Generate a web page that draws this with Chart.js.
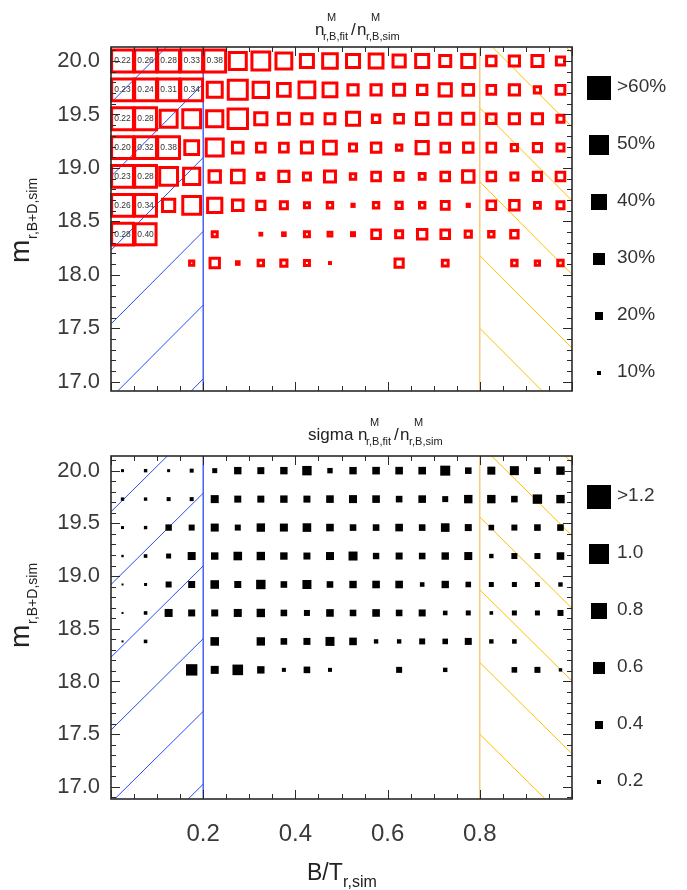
<!DOCTYPE html>
<html><head><meta charset="utf-8">
<script src="https://cdn.jsdelivr.net/npm/chart.js@4.4.1/dist/chart.umd.min.js"></script>
<style>
html,body{margin:0;padding:0;background:#fff;}
#wrap{position:relative;width:687px;height:890px;overflow:hidden;font-family:'Liberation Sans',Arial,sans-serif;color:#333;}
canvas{position:absolute;left:0;}
#c1{top:0;} #c2{top:420px;}
.t{position:absolute;white-space:nowrap;line-height:1;}
.rot{position:absolute;transform-origin:0 0;transform:rotate(-90deg);width:0;height:0;}
.sq{position:absolute;background:#000;}
</style></head><body><div id="wrap">
<canvas id="c1" width="687" height="420"></canvas>
<canvas id="c2" width="687" height="470"></canvas>
</div>
<script>
// ---------------- data ----------------
const binCenters = [0.025,0.075,0.125,0.175,0.225,0.275,0.325,0.375,0.425,0.475,0.525,0.575,0.625,0.675,0.725,0.775,0.825,0.875,0.925,0.975];
const magBins = [20.00,19.73,19.46,19.19,18.92,18.65,18.38,18.11];
const yTickValues = [17.0,17.5,18.0,18.5,19.0,19.5,20.0];
const yTickLabels = ['17.0','17.5','18.0','18.5','19.0','19.5','20.0'];
const xTickValues = [0.2,0.4,0.6,0.8];
const xTickLabels = ['0.2','0.4','0.6','0.8'];

// |1 - n_fit/n_sim| in percent, one array per magnitude row
const fracDevRow1 = [78,74,72,67,62,50,52,47,40,44,40,42,38,40,35,40,31,33,35,28];
const fracDevRow2 = [77,76,69,66,45,55,46,39,47,42,33,33,35,31,38,34,29,33,23,29];
const fracDevRow3 = [78,72,50,52,48,56,38,35,33,32,40,26,29,36,35,35,31,33,33,25];
const fracDevRow4 = [80,68,62,42,50,34,29,29,35,39,25,31,21,38,29,31,29,23,28,25];
const fracDevRow5 = [77,72,52,48,36,39,23,33,25,35,21,29,27,22,29,36,29,25,28,29];
const fracDevRow6 = [74,66,38,52,43,34,28,25,20,21,13,21,23,21,27,13,29,31,22,25];
const fracDevRow7 = [72,60,null,null,20,null,12,14,20,17,15,29,25,31,29,23,21,26,null,null];
const fracDevRow8 = [null,null,null,18,31,14,21,23,20,10,null,null,28,null,22,null,null,21,18,21];

// printed ratios for the cells beyond the >60% level (from the first column on)
const ratioRow1 = [0.22,0.26,0.28,0.33,0.38];
const ratioRow2 = [0.23,0.24,0.31,0.34];
const ratioRow3 = [0.22,0.28];
const ratioRow4 = [0.20,0.32,0.38];
const ratioRow5 = [0.23,0.28];
const ratioRow6 = [0.26,0.34];
const ratioRow7 = [0.28,0.40];
const ratioRow8 = [];

// sigma of n_fit/n_sim
const sigmaRow1 = [0.15,0.17,0.15,0.20,0.25,0.37,0.35,0.37,0.47,0.27,0.37,0.38,0.38,0.38,0.50,0.33,0.40,0.45,0.33,0.42];
const sigmaRow2 = [0.17,0.17,0.20,0.20,0.40,0.35,0.35,0.37,0.35,0.38,0.40,0.38,0.33,0.38,0.30,0.42,0.42,0.33,0.47,0.42];
const sigmaRow3 = [0.15,0.17,0.32,0.30,0.40,0.30,0.42,0.40,0.43,0.38,0.33,0.33,0.38,0.33,0.43,0.35,0.28,0.30,0.33,0.33];
const sigmaRow4 = [0.12,0.18,0.25,0.40,0.37,0.43,0.42,0.37,0.35,0.40,0.45,0.32,0.35,0.33,0.37,0.40,0.22,0.30,0.30,0.38];
const sigmaRow5 = [0.10,0.15,0.30,0.35,0.43,0.35,0.47,0.33,0.45,0.33,0.37,0.38,0.38,0.23,0.37,0.28,0.25,0.25,0.25,0.22];
const sigmaRow6 = [0.10,0.18,0.40,0.35,0.35,0.40,0.42,0.33,0.30,0.38,0.33,0.38,0.33,0.35,0.23,0.25,0.18,0.25,0.25,0.30];
const sigmaRow7 = [0.10,0.18,null,null,0.43,null,0.42,0.33,0.35,0.45,0.38,0.22,0.22,0.30,0.28,0.35,0.22,0.23,null,null];
const sigmaRow8 = [null,null,null,0.57,0.40,0.53,0.37,0.20,0.33,0.20,null,null,0.30,null,0.22,null,null,0.28,0.30,0.17];

// excluded regions (B/T limits) and their hatching lines (magnitude where each line starts)
const bulgeLimit = 0.2;
const diskLimit = 0.8;
const blueHatchStart = [19.61,18.92,18.23,17.54,16.85,16.16];
const yellowHatchStart = [20.94,20.25,19.56,18.87,18.18,17.50];
const hatchRise = 0.866;

// size legends
const legendTopLabels = ['>60%','50%','40%','30%','20%','10%'];
const legendTopValues = [60,50,40,30,20,10];
const legendBotLabels = ['>1.2','1.0','0.8','0.6','0.4','0.2'];
const legendBotValues = [1.2,1.0,0.8,0.6,0.4,0.2];

// ---------------- helpers ----------------
const FONT = "'Liberation Sans', Arial, sans-serif";
const TICK = '#3a3a3a';
const BLUE = '#2a4cf4';
const YEL = '#ffc000';
const YEL_V = '#f2c46a';

const devRows = [fracDevRow1,fracDevRow2,fracDevRow3,fracDevRow4,fracDevRow5,fracDevRow6,fracDevRow7,fracDevRow8];
const ratioRows = [ratioRow1,ratioRow2,ratioRow3,ratioRow4,ratioRow5,ratioRow6,ratioRow7,ratioRow8];
const sigmaRows = [sigmaRow1,sigmaRow2,sigmaRow3,sigmaRow4,sigmaRow5,sigmaRow6,sigmaRow7,sigmaRow8];

function cells(rows){
  const out=[];
  rows.forEach((row,r)=>row.forEach((v,c)=>{ if(v!==null) out.push({x:binCenters[c], y:magBins[r], v:v}); }));
  return out;
}

// hatched exclusion zones, drawn below the squares through the chart scales
const zones = {
  id:'zones',
  beforeDatasetsDraw(chart){
    const {ctx, chartArea:a, scales:{x,y}} = chart;
    ctx.save();
    ctx.beginPath(); ctx.rect(a.left,a.top,a.right-a.left,a.bottom-a.top); ctx.clip();
    ctx.lineWidth=1;
    ctx.strokeStyle=BLUE; ctx.beginPath();
    blueHatchStart.forEach(s=>{
      ctx.moveTo(x.getPixelForValue(0), y.getPixelForValue(s));
      ctx.lineTo(x.getPixelForValue(bulgeLimit), y.getPixelForValue(s+hatchRise));
    });
    ctx.stroke();
    ctx.strokeStyle=YEL; ctx.beginPath();
    yellowHatchStart.forEach(s=>{
      ctx.moveTo(x.getPixelForValue(diskLimit), y.getPixelForValue(s));
      ctx.lineTo(x.getPixelForValue(1), y.getPixelForValue(s-hatchRise));
    });
    ctx.stroke();
    ctx.lineWidth=1.3;
    const bx=x.getPixelForValue(bulgeLimit), dx=x.getPixelForValue(diskLimit);
    ctx.strokeStyle=BLUE; ctx.beginPath(); ctx.moveTo(bx,a.top); ctx.lineTo(bx,a.bottom); ctx.stroke();
    ctx.strokeStyle=YEL_V; ctx.beginPath(); ctx.moveTo(dx,a.top); ctx.lineTo(dx,a.bottom); ctx.stroke();
    ctx.restore();
  }
};

const frameTicks = {
  id:'frameTicks',
  afterDraw(chart){
    const {ctx, chartArea:a, scales:{x,y}} = chart;
    ctx.save();
    ctx.strokeStyle='#2a2a2a'; ctx.lineWidth=1;
    ctx.beginPath();
    for(let i=0;i<=20;i++){
      const px = Math.round(x.getPixelForValue(i*0.05))+0.5;
      const len = (i%4===0)?9:5;
      ctx.moveTo(px,a.bottom); ctx.lineTo(px,a.bottom-len);
      ctx.moveTo(px,a.top); ctx.lineTo(px,a.top+len);
    }
    for(let k=169;k<=201;k++){
      const v=k/10; if(v<y.min||v>y.max) continue;
      const py = Math.round(y.getPixelForValue(v))+0.5;
      const len = (k%5===0)?9:5;
      ctx.moveTo(a.left,py); ctx.lineTo(a.left+len,py);
      ctx.moveTo(a.right,py); ctx.lineTo(a.right-len,py);
    }
    ctx.stroke();
    ctx.lineWidth=1.6;
    ctx.strokeRect(a.left,a.top,a.right-a.left,a.bottom-a.top);
    ctx.restore();
  }
};

const ratioLabels = {
  id:'ratioLabels',
  afterDatasetsDraw(chart){
    const {ctx, scales:{x,y}} = chart;
    ctx.save();
    ctx.font = "8.5px " + FONT; ctx.fillStyle='#333'; ctx.textAlign='center'; ctx.textBaseline='middle';
    ratioRows.forEach((row,r)=>row.forEach((v,c)=>{
      ctx.fillText(v.toFixed(2), x.getPixelForValue(binCenters[c]), y.getPixelForValue(magBins[r]));
    }));
    ctx.restore();
  }
};

function makeOptions(yMin,yMax,showX){
  return {
    responsive:false, animation:false, events:[],
    layout:{padding:{left:0,right:115,top:showX?36:47,bottom:showX?0:29}},
    plugins:{legend:{display:false}, tooltip:{enabled:false}},
    scales:{
      x:{type:'linear', min:0, max:1, display:showX,
         grid:{display:false, drawTicks:false}, border:{display:false},
         afterBuildTicks:s=>{ s.ticks = xTickValues.map(v=>({value:v})); },
         ticks:{display:showX, callback:(v,i)=>xTickLabels[i], font:{family:FONT,size:24}, color:TICK, padding:21, maxRotation:0, autoSkip:false},
         afterFit:s=>{ s.height = showX ? 91 : 0; }},
      y:{type:'linear', min:yMin, max:yMax,
         grid:{display:false, drawTicks:false}, border:{display:false},
         afterBuildTicks:s=>{ s.ticks = yTickValues.map(v=>({value:v})); },
         ticks:{callback:(v,i)=>yTickLabels[i], font:{family:FONT,size:22}, color:TICK, padding:11, autoSkip:false},
         afterFit:s=>{ s.width = 111; }}
    }
  };
}

// ---------------- top chart ----------------
new Chart(document.getElementById('c1'), {
  type:'scatter',
  data:{datasets:[
    {label:'n_fit/n_sim', data:cells(devRows), pointStyle:'rect', clip:false,
     pointRadius:ctx=>{ const s=0.4*Math.min(ctx.raw.v,62); return Math.max(0.6,(s-3)/Math.SQRT2); },
     borderColor:'#ff0000', backgroundColor:'rgba(0,0,0,0)',
     pointBorderColor:'#ff0000', pointBackgroundColor:'rgba(0,0,0,0)', pointBorderWidth:3}
  ]},
  options:makeOptions(16.913,20.131,false),
  plugins:[zones, ratioLabels, frameTicks]
});

// ---------------- bottom chart ----------------
new Chart(document.getElementById('c2'), {
  type:'scatter',
  data:{datasets:[
    {label:'sigma', data:cells(sigmaRows), pointStyle:'rect', clip:false,
     pointRadius:ctx=>Math.max(0.5,20*ctx.raw.v/Math.SQRT2),
     borderColor:'#000', backgroundColor:'#000',
     pointBorderWidth:0, pointBackgroundColor:'#000', pointBorderColor:'#000'}
  ]},
  options:makeOptions(16.885,20.139,true),
  plugins:[zones, frameTicks]
});

// ---------------- text & legends ----------------
const wrap = document.getElementById('wrap');
function txt(parent,s,x,base,size,color){
  const d=document.createElement('div'); d.className='t'; d.textContent=s;
  d.style.left=x+'px'; d.style.top=(base-0.8465*size)+'px'; d.style.fontSize=size+'px';
  if(color) d.style.color=color;
  parent.appendChild(d); return d;
}
function ratioTitle(x0,base){
  txt(wrap,'n',x0,base,17,'#222');
  txt(wrap,'M',x0+12,base-14,11,'#222');
  txt(wrap,'r,B,fit',x0+8,base+5,11,'#222');
  txt(wrap,'/',x0+36,base,17,'#222');
  txt(wrap,'n',x0+42,base,17,'#222');
  txt(wrap,'M',x0+56,base-14,11,'#222');
  txt(wrap,'r,B,sim',x0+51,base+5,11,'#222');
}
ratioTitle(315,35);
txt(wrap,'sigma',308,440,17,'#222');
ratioTitle(358,440);

function yTitle(bx,sy){
  const c=document.createElement('div'); c.className='rot';
  c.style.left=bx+'px'; c.style.top=sy+'px'; wrap.appendChild(c);
  txt(c,'m',0,0,28,'#222');
  txt(c,'r,B+D,sim',24,7,14,'#222');
}
yTitle(30,263);
yTitle(30,648);

txt(wrap,'B/T',307,880,23,'#222');
txt(wrap,'r,sim',343,888,16,'#222');

function legend(labels,sizes,cy0){
  labels.forEach((lab,i)=>{
    const cy=cy0+57*i, s=sizes[i];
    const d=document.createElement('div'); d.className='sq';
    d.style.left=(599-s/2)+'px'; d.style.top=(cy-s/2)+'px'; d.style.width=s+'px'; d.style.height=s+'px';
    wrap.appendChild(d);
    txt(wrap,lab,617,cy+4,19,'#333');
  });
}
legend(legendTopLabels, legendTopValues.map(v=>0.4*v), 88);
legend(legendBotLabels, legendBotValues.map(v=>20*v), 497);
</script></body></html>
